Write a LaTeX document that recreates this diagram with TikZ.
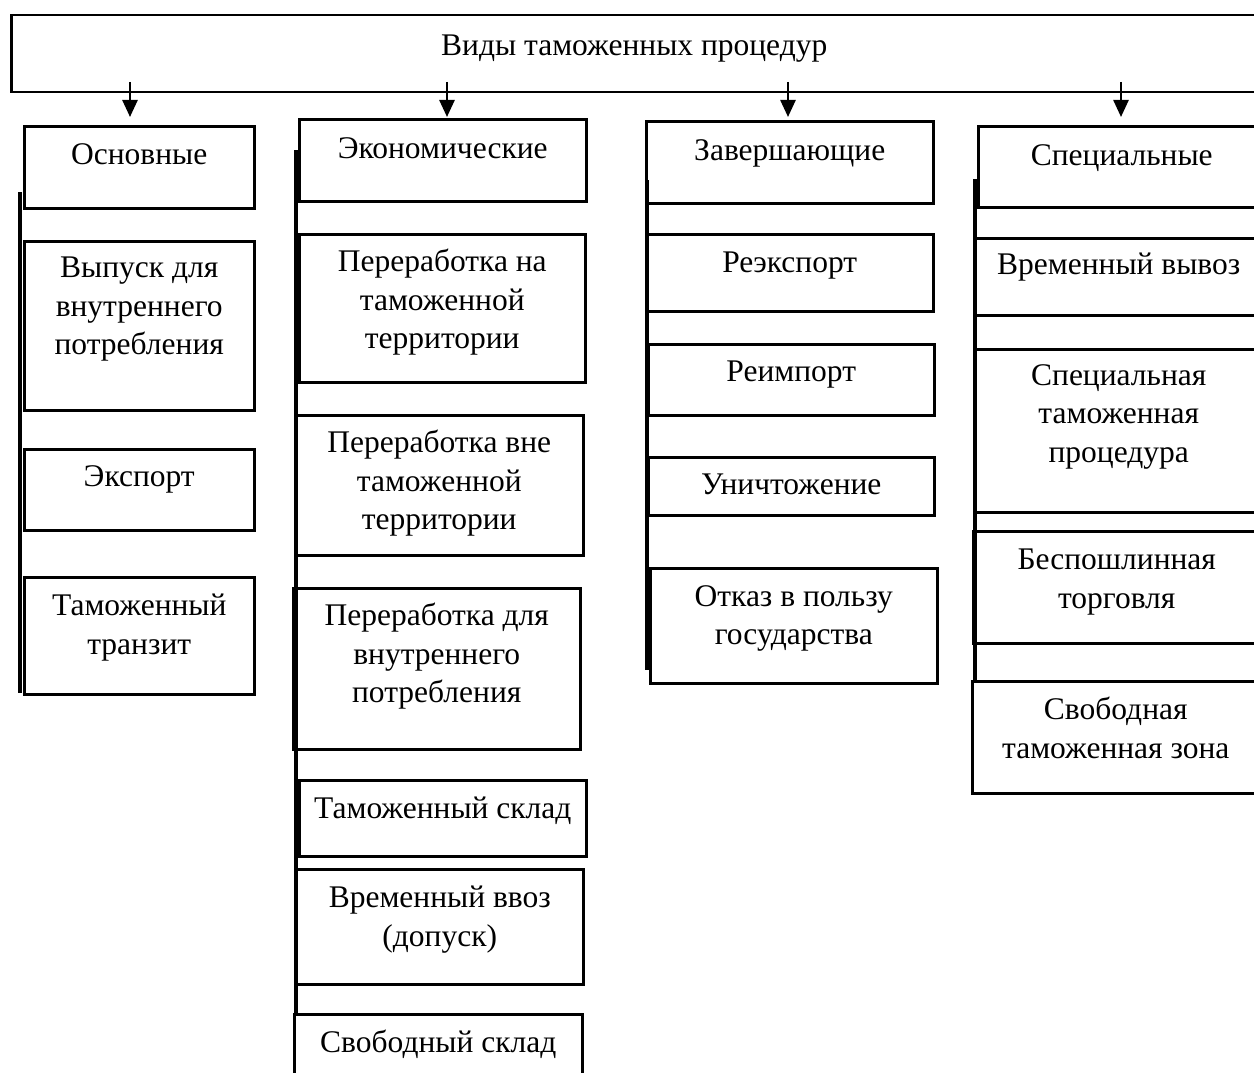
\documentclass[tikz,border=0pt]{standalone}
\usepackage{fontspec}
\setmainfont{Liberation Serif}
\usetikzlibrary{arrows.meta}

\begin{document}
\begin{tikzpicture}[x=1pt, y=-1pt,
    box/.style={draw, line width=2.5pt, anchor=north west, inner sep=0pt},
    lbl/.style={anchor=north, align=center, inner sep=0pt, font=\fontsize{31.5}{38.5}\selectfont, execute at begin node=\strut},
    spine/.style={line width=4pt},
    arr/.style={line width=2.5pt, -{Triangle[length=17pt, width=15pt]}}]

    \useasboundingbox (0,0) rectangle (1254,1073);
    \clip (0,0) rectangle (1254,1073);

    % top box
    \node[box, minimum width=1246pt, minimum height=77pt] (top) at (10,14) {};
    \node[lbl] (top-t) at ([yshift=-14pt]top.north) {Виды таможенных процедур};

    % arrows to the four groups
    \foreach \x [count=\i] in {130,447,788,1121} {
        \coordinate (s\i) at (\x,82);
        \coordinate (t\i) at (\x,117);
        \draw[arr] (s\i) -- (t\i);
    }

    % left lines of the groups
    \coordinate (l1a) at (20,192);  \coordinate (l1b) at (20,693);
    \coordinate (l2a) at (296,150); \coordinate (l2b) at (296,1013);
    \coordinate (l3a) at (647,180); \coordinate (l3b) at (647,670);
    \coordinate (l4a) at (975,179); \coordinate (l4b) at (975,680);
    \draw[spine] (l1a) -- (l1b);
    \draw[spine] (l2a) -- (l2b);
    \draw[spine] (l3a) -- (l3b);
    \draw[spine] (l4a) -- (l4b);

    % Основные
    \node[box, minimum width=230pt, minimum height=82pt] (osn) at (23,125) {};
    \node[lbl] (osn-t) at ([yshift=-12pt]osn.north) {Основные};
    \node[box, minimum width=230pt, minimum height=169pt] (vyp) at (23,240) {};
    \node[lbl] (vyp-t) at ([yshift=-17pt]vyp.north) {Выпуск для\\внутреннего\\потребления};
    \node[box, minimum width=230pt, minimum height=81pt] (exp) at (23,448) {};
    \node[lbl] (exp-t) at ([yshift=-11pt]exp.north) {Экспорт};
    \node[box, minimum width=230pt, minimum height=117pt] (tran) at (23,576) {};
    \node[lbl] (tran-t) at ([yshift=-18pt]tran.north) {Таможенный\\транзит};

    % Экономические
    \node[box, minimum width=287pt, minimum height=82pt] (econ) at (298,118) {};
    \node[lbl] (econ-t) at ([yshift=-13pt]econ.north) {Экономические};
    \node[box, minimum width=286pt, minimum height=148pt] (pnt) at (298,233) {};
    \node[lbl] (pnt-t) at ([yshift=-16pt]pnt.north) {Переработка на\\таможенной\\территории};
    \node[box, minimum width=288pt, minimum height=140pt] (pvt) at (294,414) {};
    \node[lbl] (pvt-t) at ([yshift=-16pt]pvt.north) {Переработка вне\\таможенной\\территории};
    \node[box, minimum width=287pt, minimum height=161pt] (pvp) at (292,587) {};
    \node[lbl] (pvp-t) at ([yshift=-16pt]pvp.north) {Переработка для\\внутреннего\\потребления};
    \node[box, minimum width=287pt, minimum height=76pt] (tsk) at (298,779) {};
    \node[lbl] (tsk-t) at ([yshift=-12pt]tsk.north) {Таможенный склад};
    \node[box, minimum width=287pt, minimum height=115pt] (vvoz) at (295,868) {};
    \node[lbl] (vvoz-t) at ([yshift=-18pt]vvoz.north) {Временный ввоз\\(допуск)};
    \node[box, minimum width=288pt, minimum height=80pt] (ssk) at (293,1013) {};
    \node[lbl] (ssk-t) at ([yshift=-12pt]ssk.north) {Свободный склад};

    % Завершающие
    \node[box, minimum width=287pt, minimum height=82pt] (zav) at (645,120) {};
    \node[lbl] (zav-t) at ([yshift=-13pt]zav.north) {Завершающие};
    \node[box, minimum width=287pt, minimum height=77pt] (reexp) at (645,233) {};
    \node[lbl] (reexp-t) at ([yshift=-12pt]reexp.north) {Реэкспорт};
    \node[box, minimum width=286pt, minimum height=71pt] (reimp) at (647,343) {};
    \node[lbl] (reimp-t) at ([yshift=-11pt]reimp.north) {Реимпорт};
    \node[box, minimum width=286pt, minimum height=58pt] (unich) at (647,456) {};
    \node[lbl] (unich-t) at ([yshift=-11pt]unich.north) {Уничтожение};
    \node[box, minimum width=287pt, minimum height=115pt] (otk) at (649,567) {};
    \node[lbl] (otk-t) at ([yshift=-18pt]otk.north) {Отказ в пользу\\государства};

    % Специальные
    \node[box, minimum width=287pt, minimum height=81pt] (spec) at (977,125) {};
    \node[lbl] (spec-t) at ([yshift=-13pt]spec.north) {Специальные};
    \node[box, minimum width=287pt, minimum height=77pt] (vyv) at (974,237) {};
    \node[lbl] (vyv-t) at ([yshift=-10pt]vyv.north) {Временный вывоз};
    \node[box, minimum width=287pt, minimum height=163pt] (stp) at (974,348) {};
    \node[lbl] (stp-t) at ([yshift=-16pt]stp.north) {Специальная\\таможенная\\процедура};
    \node[box, minimum width=287pt, minimum height=112pt] (besp) at (972,530) {};
    \node[lbl] (besp-t) at ([yshift=-19pt]besp.north) {Беспошлинная\\торговля};
    \node[box, minimum width=287pt, minimum height=112pt] (svz) at (971,680) {};
    \node[lbl] (svz-t) at ([yshift=-17pt]svz.north) {Свободная\\таможенная зона};
\end{tikzpicture}
\end{document}
